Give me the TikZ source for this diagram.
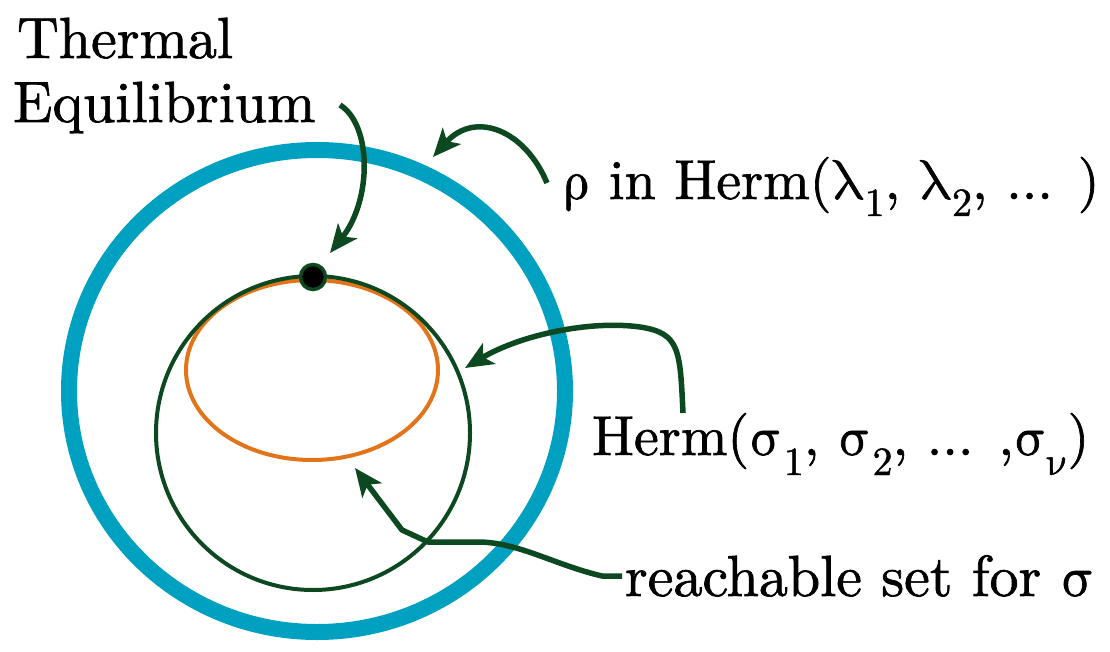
\documentclass[tikz,border=0pt]{standalone}
\usepackage{fontspec}
\usepackage{unicode-math}
\setmathfont{Latin Modern Math}[FakeBold=1.2]
\setmainfont{lmroman10-regular.otf}[FakeBold=1.2]
\usetikzlibrary{arrows.meta}
\definecolor{ringcyan}{RGB}{0,160,192}
\definecolor{dgreen}{RGB}{12,72,32}
\definecolor{orng}{RGB}{226,116,26}
\newcommand\lsub[2]{\raisebox{-#1}{\fontsize{40}{40}\selectfont #2}}
\newcommand\gk[1]{$\symup{#1}$}
\begin{document}
\begin{tikzpicture}[x=1pt,y=-1pt,
  lbl/.style={inner sep=0pt, outer sep=0pt, anchor=base west, font=\fontsize{58}{64}\selectfont},
  mlbl/.style={lbl, font=\fontsize{56}{64}\selectfont},
  pointer/.style={draw=dgreen, line width=5.5pt, -{Stealth[length=28pt,width=24pt,inset=7pt]}},
  ]
\useasboundingbox (0,0) rectangle (1110,652);
% shapes
\draw[ringcyan, line width=16pt] (317,391) ellipse [x radius=248, y radius=241];
\draw[orng, line width=4pt] (312,370) ellipse [x radius=126, y radius=90];
\draw[dgreen, line width=4pt] (313,433) circle [radius=157];
\node[circle, fill=black, draw=dgreen, line width=3.5pt, minimum size=25pt, inner sep=0pt] (dot) at (313,277) {};
% labels
\node[lbl] (thermal) at (17,58) {Thermal};
\node[lbl] (equil) at (13,122) {Equilibrium};
\node[mlbl] (rho) at (563,199) {\gk\rho{} in Herm(\gk\lambda\lsub{17pt}{1}, \gk\lambda\lsub{17pt}{2}, ... )};
\node[mlbl] (herm) at (592,455) {Herm(\gk\sigma\kern1pt\lsub{20pt}{1}, \gk\sigma\kern1pt\lsub{20pt}{2}, ... ,\gk\sigma\lsub{20pt}{\gk\nu})};
\node[lbl] (reach) at (625,596) {reachable set for \gk\sigma};
% arrow ends
\coordinate (tThermal) at (330,253);
\coordinate (tRho) at (433,157);
\coordinate (tHerm) at (465,368);
\coordinate (tReach) at (355,468);
\coordinate (sThermal) at (340,105);
\coordinate (sRho) at (547,183);
\coordinate (sHerm) at (683,413);
\coordinate (sReach) at (622,576);
% connectors
\draw[pointer] (sThermal) .. controls (372,125) and (372,200) .. (tThermal);
\draw[pointer] (sRho) .. controls (525,130) and (475,110) .. (tRho);
\draw[pointer] (sHerm) .. controls (680,350) and (680,333) .. (640,327) .. controls (590,320) and (520,335) .. (tHerm);
\draw[pointer, line join=round] (sReach) -- (602,576) .. controls (555,565) and (520,543) .. (480,542) -- (428,542) -- (402,530) -- (tReach);
\end{tikzpicture}
\end{document}
